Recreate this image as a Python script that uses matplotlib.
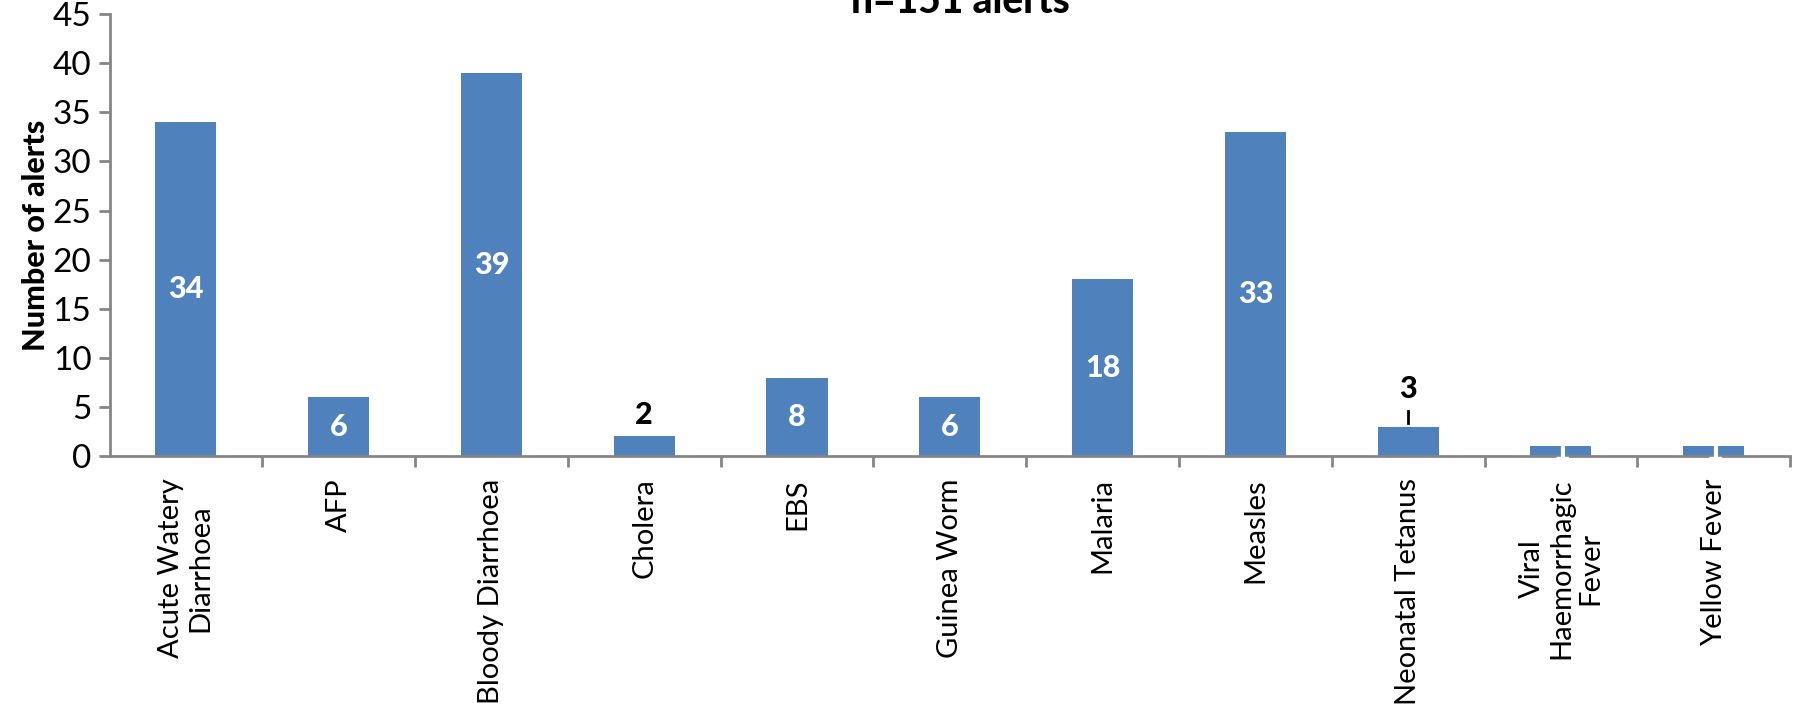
import matplotlib
matplotlib.use('Agg')
from matplotlib import pyplot as plt
import numpy as np

categories = ['Acute Watery\nDiarrhoea', 'AFP', 'Bloody Diarrhoea', 'Cholera', 'EBS',
              'Guinea Worm', 'Malaria', 'Measles', 'Neonatal Tetanus',
              'Viral\nHaemorrhagic\nFever', 'Yellow Fever']
alerts = [34, 6, 39, 2, 8, 6, 18, 33, 3, 1, 1]
title = 'n=151 alerts'

plt.rcParams['font.family'] = ['Lato', 'DejaVu Sans']
BLUE = '#4f81bd'
GREY = '#868686'

fig = plt.figure(figsize=(17.96, 7.06), dpi=100)
ax = fig.add_axes([0.061, 0.354, 0.9357, 0.626])

x = np.arange(len(categories))
bars = ax.bar(x, alerts, width=0.4, color=BLUE, zorder=2)

ax.set_xlim(-0.5, len(categories) - 0.5)
ax.set_ylim(0, 45)
ax.set_yticks(range(0, 46, 5))
ax.tick_params(axis='y', labelsize=24, color=GREY, length=8, width=2, pad=5)

ax.set_xticks(x)
ax.set_xticklabels(categories, rotation=90, fontsize=21, va='top', ha='center',
                   multialignment='center', linespacing=1.15)
ax.tick_params(axis='x', which='major', length=0, pad=16)
ax.set_xticks(np.arange(0.5, len(categories), 1.0), minor=True)
ax.tick_params(axis='x', which='minor', length=8, width=2, color=GREY)

for s in ['top', 'right']:
    ax.spines[s].set_visible(False)
for s in ['left', 'bottom']:
    ax.spines[s].set_color(GREY)
    ax.spines[s].set_linewidth(2)

ax.set_ylabel('Number of alerts', fontsize=22, fontweight='black', labelpad=2)

# value labels: white inside taller bars, black above the short ones
for xi, v in zip(x, alerts):
    if v == 2:
        ax.text(xi, v + 2.2, str(v), ha='center', va='center', fontsize=22,
                fontweight='black', color='black')
    elif v == 3:
        ax.plot([xi, xi], [v + 0.4, v + 1.6], color='black', lw=2)
        ax.text(xi, v + 3.8, str(v), ha='center', va='center', fontsize=22,
                fontweight='black', color='black')
    else:
        ax.text(xi, v / 2, str(v), ha='center', va='center', fontsize=22,
                fontweight='black', color='white', zorder=3)

fig.text(0.535, 0.972, title, ha='center', va='bottom', fontsize=28,
         fontweight='black')

fig.savefig('out.png', dpi=100)
